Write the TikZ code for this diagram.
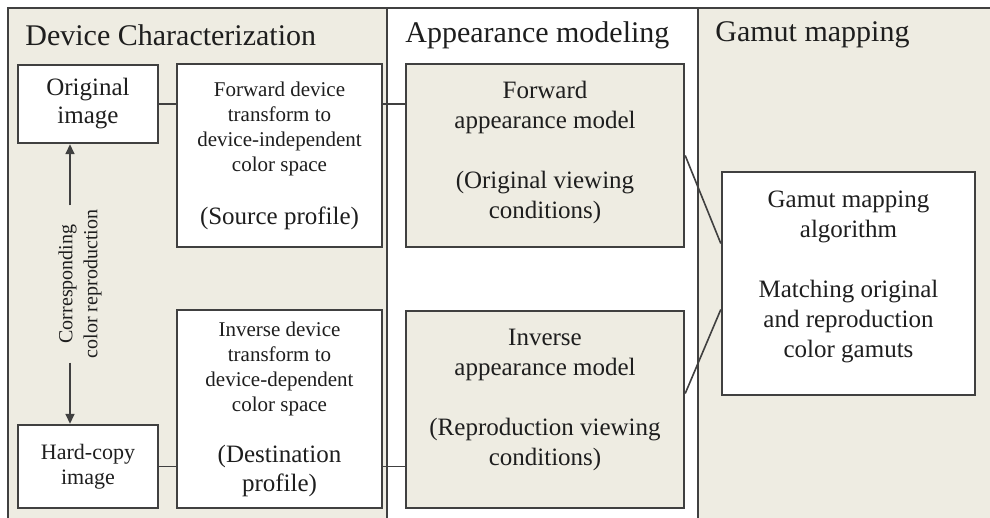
\documentclass[tikz,border=0pt]{standalone}
\usepackage{fontspec}
\setmainfont{Liberation Serif}
\usetikzlibrary{arrows.meta}
\definecolor{panelbg}{RGB}{238,236,226}
\definecolor{linegray}{RGB}{64,64,64}
\definecolor{textgray}{RGB}{30,30,30}
\newcommand{\titletxt}{\fontsize{15}{18}\selectfont}
\newcommand{\bigtxt}   {\fontsize{12.5}{15}\selectfont}
\newcommand{\smtxt}    {\fontsize{10.5}{12.5}\selectfont}
\newcommand{\corrtxt}  {\fontsize{10}{12.5}\selectfont}

\begin{document}
\begin{tikzpicture}[x=0.5pt,y=-0.5pt,
   box/.style={draw=linegray, line width=1.2pt, fill=white, align=center,
               inner sep=0pt, font=\bigtxt, text=textgray},
   conn/.style={draw=linegray, line width=0.8pt},
   title/.style={anchor=west, inner sep=0pt, font=\titletxt, text=textgray},
   tip/.style={-{Triangle[length=5pt,width=4.5pt]}}]
   \useasboundingbox (0,0) rectangle (990,518);
 % panels
   \fill[panelbg] (  8,  8) rectangle ( 387, 530);
   \fill[  white] (387,  8) rectangle ( 698, 530);
   \fill[panelbg] (698,  8) rectangle (1000, 530);
   \draw[conn] (  8, 530) -- (  8,  8) -- (1000,  8);
   \draw[conn] (387,   8) -- (387, 530);
   \draw[conn] (698,   8) -- (698, 530);
   \node[title] (tdev) at ( 25, 35) {Device Characterization};
   \node[title] (tapp) at (405, 35) {Appearance modeling};
   \node[title] (tgam) at (715, 35) {Gamut mapping};
 % boxes
   \node[box, minimum width=70pt, minimum height=39pt] (orig) at ( 88, 104)
      {Original\\[-1pt] image};
   \node[box, minimum width=70pt, minimum height=41.5pt, font=\fontsize{11}{12.5}\selectfont] (hard) at ( 88, 466.5)
      {Hard-copy\\ image\\[-10pt]~};
   \node[box, minimum width=102.5pt, minimum height=91.5pt, font=\smtxt] (fwddev) at (279.5, 155.5)
      {Forward device\\ transform to\\ device-independent\\ color space\\[14pt] {\bigtxt (Source profile)}};
   \node[box, minimum width=102.5pt, minimum height=99pt, font=\smtxt] (invdev) at (279.5, 409)
      {Inverse device\\ transform to\\ device-dependent\\ color space\\[13pt] {\bigtxt (Destination}\\[2pt] {\bigtxt profile)}};
   \node[box, fill=panelbg, minimum width=139pt, minimum height=91.5pt] (fwdapp) at (545, 155.5)
      {Forward\\ appearance model\\[15pt] (Original viewing\\ conditions)\\[-9pt]~};
   \node[box, fill=panelbg, minimum width=139pt, minimum height=98.5pt] (invapp) at (545, 409.5)
      {Inverse\\ appearance model\\[15pt] (Reproduction viewing\\ conditions)\\[-3pt]~};
   \node[box, minimum width=126.5pt, minimum height=111.5pt] (gamut) at (848.5, 283.5)
      {Gamut mapping\\ algorithm\\[15pt] Matching original\\ and reproduction\\ color gamuts\\[-6pt]~};
 % connectors
   \draw[conn] (orig.east) -- (fwddev.west |- orig.east);
   \draw[conn] (fwddev.east |- orig.east) -- (fwdapp.west |- orig.east);
   \draw[conn] (hard.east) -- (invdev.west |- hard.east);
   \draw[conn] (invdev.east |- hard.east) -- (invapp.west |- hard.east);
   \draw[conn] (fwdapp.east) -- ([yshift=20pt]gamut.west);
   \draw[conn] ([yshift=8pt]invapp.east) -- ([yshift=-13pt]gamut.west);
 % corresponding reproduction
   \coordinate (ax) at (70, 0);
   \node[rotate=90, align=center, inner sep=2pt, font=\corrtxt, text=textgray] (corr) at (80, 284)
      {Corresponding\\ color reproduction};
   \draw[conn,tip] (corr.east -| ax) -- (orig.south -| ax);
   \draw[conn,tip] (corr.west -| ax) -- (hard.north -| ax);
\end{tikzpicture}
\end{document}
